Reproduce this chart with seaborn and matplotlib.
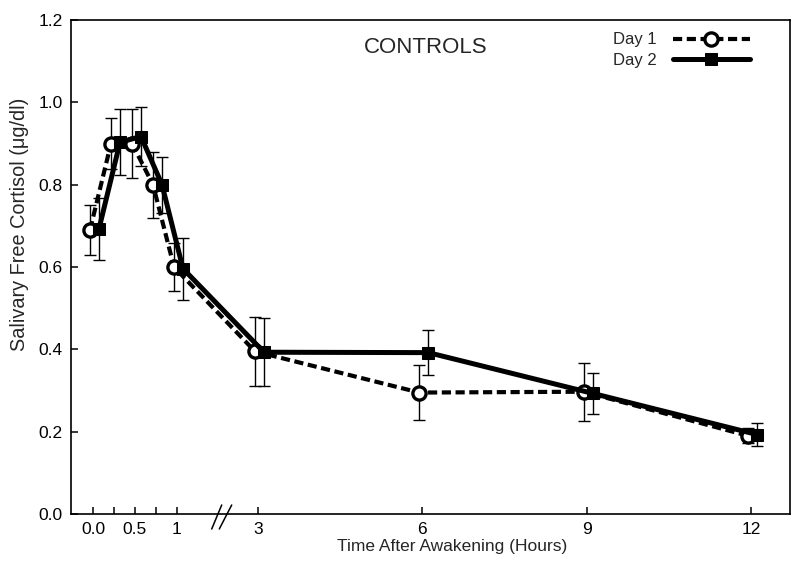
import numpy as np
import pandas as pd
import matplotlib
matplotlib.use("Agg")
import matplotlib.pyplot as plt
import matplotlib.transforms as mtransforms
from matplotlib.lines import Line2D
import seaborn as sns

# ---- data ----
hours = [0.0, 0.25, 0.5, 0.75, 1.0, 3.0, 6.0, 9.0, 12.0]
day1_mean = [0.69, 0.90, 0.90, 0.80, 0.60, 0.395, 0.295, 0.297, 0.19]
day1_err = [0.06, 0.062, 0.085, 0.08, 0.058, 0.083, 0.067, 0.07, 0.018]
day2_mean = [0.693, 0.903, 0.917, 0.80, 0.596, 0.393, 0.392, 0.293, 0.193]
day2_err = [0.075, 0.08, 0.072, 0.068, 0.075, 0.083, 0.055, 0.05, 0.027]
tick_pos = [0.0, 0.25, 0.5, 0.75, 1.0, 3.0, 6.0, 9.0, 12.0]
tick_lab = ["0.0", "", "0.5", "", "1", "3", "6", "9", "12"]
ytick_pos = [0.0, 0.2, 0.4, 0.6, 0.8, 1.0, 1.2]

df1 = pd.DataFrame({"t": hours, "v": day1_mean})
df2 = pd.DataFrame({"t": hours, "v": day2_mean})

sns.set_theme(style="ticks")
plt.rcParams["font.family"] = ["Liberation Sans", "DejaVu Sans"]

fig = plt.figure(figsize=(8, 5.66), dpi=100)
ax = fig.add_axes([71/800, 52/566, 719/800, 494/566])

# piecewise time axis: 0-1 h expanded, break between 1 and 3
A, B, C = 84.0, 40.5, 54.8
def fwd(t):
    t = np.asarray(t, dtype=float)
    return np.where(t <= 1, A*t, np.where(t < 3, A + B*(t-1), A + 2*B + C*(t-3)))
def inv(f):
    f = np.asarray(f, dtype=float)
    return np.where(f <= A, f/A, np.where(f < A + 2*B, 1 + (f-A)/B, 3 + (f-A-2*B)/C))
ax.set_xscale("function", functions=(fwd, inv))

off1 = mtransforms.offset_copy(ax.transData, fig=fig, x=-3, y=0, units="dots")
off2 = mtransforms.offset_copy(ax.transData, fig=fig, x=6, y=0, units="dots")

# error bars
eb1 = ax.errorbar(hours, day1_mean, yerr=day1_err, fmt="none", ecolor="black",
                  elinewidth=1.0, capsize=4, capthick=1.0, transform=off1, zorder=2)
eb2 = ax.errorbar(hours, day2_mean, yerr=day2_err, fmt="none", ecolor="black",
                  elinewidth=1.0, capsize=4, capthick=1.0, transform=off2, zorder=2)
for eb, tr in ((eb1, off1), (eb2, off2)):
    for art in eb.lines[1]:
        art.set_transform(tr)
    for art in eb.lines[2]:
        art.set_transform(tr)

n0 = len(ax.lines)
sns.lineplot(data=df1, x="t", y="v", ax=ax, color="black", linewidth=3.0,
             dashes=False, marker="o", markersize=9.5, markerfacecolor="white",
             markeredgecolor="black", markeredgewidth=2.4, label="Day 1", zorder=3)
l1 = ax.lines[n0]
l1.set_linestyle((0, (2.2, 1.1)))
l1.set_transform(off1)
n1 = len(ax.lines)
sns.lineplot(data=df2, x="t", y="v", ax=ax, color="black", linewidth=3.6,
             marker="s", markersize=8, markerfacecolor="black",
             markeredgecolor="black", label="Day 2", zorder=4)
l2 = ax.lines[n1]
l2.set_transform(off2)

ax.set_xlim(-0.262, 12.71)
ax.set_ylim(0, 1.2)
ax.set_xticks(tick_pos)
ax.set_xticklabels(tick_lab)
ax.set_yticks(ytick_pos)
ax.set_yticklabels([f"{v:.1f}" for v in ytick_pos])
ax.minorticks_off()
ax.tick_params(direction="in", length=5, width=1.1, labelsize=12.5, pad=6, colors="black")
for s in ax.spines.values():
    s.set_visible(True)
    s.set_linewidth(1.2)
    s.set_color("black")

ax.set_xlabel("Time After Awakening (Hours)", fontsize=12.5)
ax.set_ylabel("Salivary Free Cortisol (\u03bcg/dl)", fontsize=14.3)
ax.xaxis.set_label_coords(0.53, -0.05)
ax.yaxis.set_label_coords(-0.058, 0.587)

ax.text(0.494, 0.945, "CONTROLS", transform=ax.transAxes, ha="center",
        va="center", fontsize=16)

leg = ax.legend(loc="upper right", bbox_to_anchor=(0.944, 0.975), frameon=False,
                markerfirst=False, handlelength=4.6, handletextpad=1.0,
                borderpad=0, borderaxespad=0, labelspacing=0.35, fontsize=12)

# axis break marks
for x0, x1 in ((211.7, 221.7), (219.3, 231.7)):
    fig.add_artist(Line2D([x0/800, x1/800], [37/566, 61/566], color="black",
                          linewidth=1.1, transform=fig.transFigure))

fig.savefig("out.png", dpi=100)
